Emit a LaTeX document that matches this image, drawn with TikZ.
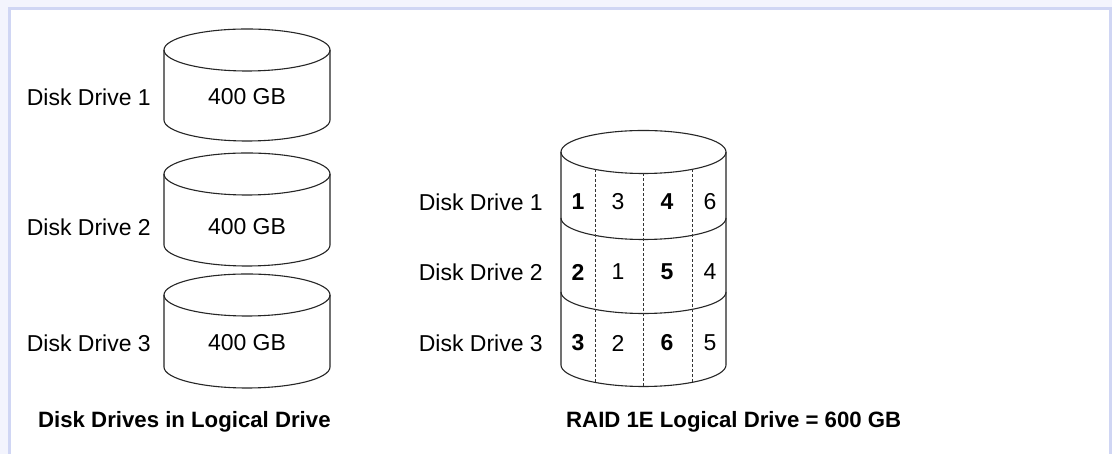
\documentclass[tikz,border=0pt]{standalone}
\usepackage{fontspec}
\setmainfont{Liberation Sans}
\definecolor{outerbg}{HTML}{F3F4FD}
\definecolor{framec}{HTML}{D0D6F4}
\tikzset{
  lbl/.style={inner sep=0pt, font=\fontsize{23}{27}\selectfont},
  num/.style={inner sep=0pt, font=\fontsize{23}{27}\selectfont},
  bnum/.style={inner sep=0pt, font=\fontsize{23}{27}\selectfont\bfseries},
  captxt/.style={inner sep=0pt, anchor=west, font=\fontsize{22.2}{26}\selectfont\bfseries},
  cyl/.style={line width=1.1pt, black!85},
  div/.style={dash pattern=on 3pt off 2pt, line width=0.7pt, black!80}
}
\begin{document}
\begin{tikzpicture}[x=1pt,y=1pt]
\useasboundingbox (0,0) rectangle (1112,454);
% frame
\fill[outerbg] (0,0) rectangle (1112,454);
\fill[framec] (8,0) rectangle (1112,447);
\fill[white] (11,0) rectangle (1109,444);

% left cylinders
\foreach \t/\b in {404/334, 280/209, 159/87}{
  \draw[cyl] (164,\t) -- (164,\b) arc[start angle=180,end angle=360,x radius=83,y radius=21] -- (330,\t);
  \draw[cyl] (247,\t) ellipse[x radius=83,y radius=21];
}
\node[lbl] (c1) at (247,357) {400 GB};
\node[lbl] (c2) at (247,227) {400 GB};
\node[lbl] (c3) at (247,111) {400 GB};
\node[lbl,anchor=east] (l1) at (151,357) {Disk Drive 1};
\node[lbl,anchor=east] (l2) at (151,227) {Disk Drive 2};
\node[lbl,anchor=east] (l3) at (151,111) {Disk Drive 3};
\node[captxt] (capL) at (38,32) {Disk Drives in Logical Drive};

% right cylinder
\draw[cyl] (561,302) -- (561,89) arc[start angle=180,end angle=360,x radius=82.5,y radius=21.5] -- (726,302);
\draw[cyl] (643.5,302) ellipse[x radius=82.5,y radius=21.5];
\draw[cyl] (561,236) arc[start angle=180,end angle=360,x radius=82.5,y radius=21.5];
\draw[cyl] (561,162) arc[start angle=180,end angle=360,x radius=82.5,y radius=21.5];
\draw[div] (595,284.6) -- (595,71.6);
\draw[div] (643.5,280.5) -- (643.5,67.5);
\draw[div] (692,284.6) -- (692,71.6);

\node[bnum] (a1) at (578,252) {1};
\node[num]  (a2) at (618,252) {3};
\node[bnum] (a3) at (667,252) {4};
\node[num]  (a4) at (710,252) {6};
\node[bnum] (b1) at (578,182) {2};
\node[num]  (b2) at (618,182) {1};
\node[bnum] (b3) at (667,182) {5};
\node[num]  (b4) at (710,182) {4};
\node[bnum] (d1) at (578,111) {3};
\node[num]  (d2) at (618,111) {2};
\node[bnum] (d3) at (667,111) {6};
\node[num]  (d4) at (710,111) {5};

\node[lbl,anchor=east] (r1) at (543,252) {Disk Drive 1};
\node[lbl,anchor=east] (r2) at (543,182) {Disk Drive 2};
\node[lbl,anchor=east] (r3) at (543,111) {Disk Drive 3};
\node[captxt] (capR) at (566,32) {RAID 1E Logical Drive = 600 GB};
\end{tikzpicture}
\end{document}
